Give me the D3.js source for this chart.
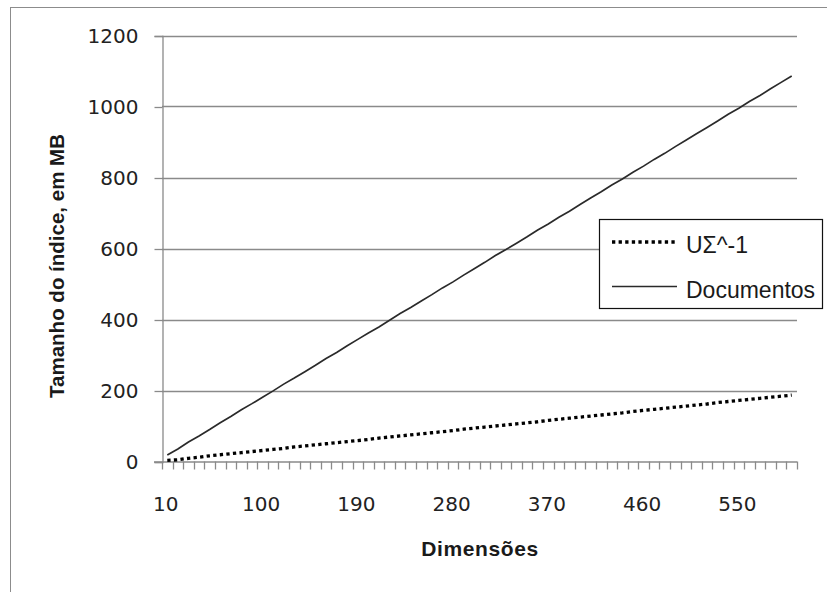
<!DOCTYPE html>
<html><head><meta charset="utf-8">
<script src="https://cdn.jsdelivr.net/npm/d3@7"></script>
<style>html,body{margin:0;padding:0;background:#fff}</style>
</head><body>
<svg id="c" width="827" height="592"></svg>
<script>
const dims = [10,20,30,40,50,60,70,80,90,100,110,120,130,140,150,160,170,180,190,200,210,220,230,240,250,260,270,280,290,300,310,320,330,340,350,360,370,380,390,400,410,420,430,440,450,460,470,480,490,500,510,520,530,540,550,560,570,580,590,600];
const documentos = [18,35,55,72,90,109,127,146,163,181,199,218,235,253,271,290,307,326,344,362,379,398,417,434,452,470,489,506,525,543,561,580,597,615,633,652,669,688,705,724,742,760,779,796,815,832,851,868,887,905,923,941,959,978,995,1014,1031,1050,1068,1086];
const usigma = [3,5,9,12,16,19,22,25,28,31,34,37,41,44,47,50,53,56,59,62,66,69,72,75,78,81,84,87,91,94,97,100,103,106,109,112,116,119,122,125,128,131,134,137,141,144,147,150,153,156,159,162,166,169,172,175,178,181,184,187];
const xTickLabels = [10,100,190,280,370,460,550];
const yTicks = [0,200,400,600,800,1000,1200];
const seriesNames = ["U\u03A3^-1","Documentos"];

const svg = d3.select("#c");
const L = 162, R = 797, T = 35.5, B = 461.5;
const x = d3.scaleBand().domain(dims).range([L, R]).paddingInner(0).paddingOuter(0);
const y = d3.scaleLinear().domain([0,1200]).range([B, T]);
const grid = "#8a8a8a";

// outer frame
svg.append("rect").attr("x",10.5).attr("y",7.5).attr("width",830).attr("height",600)
  .attr("fill","none").attr("stroke","#8c8c8c").attr("stroke-width",1);

// gridlines
svg.append("g").selectAll("line").data(yTicks.filter(d=>d>0)).join("line")
  .attr("x1",L).attr("x2",R).attr("y1",d=>Math.round(y(d))+0.5).attr("y2",d=>Math.round(y(d))+0.5)
  .attr("stroke",grid).attr("stroke-width",1.3);

// y axis
const yAx = svg.append("g").attr("transform",`translate(${L+0.5},0.5)`)
  .call(d3.axisLeft(y).tickValues(yTicks).tickSize(8).tickPadding(16).tickFormat(d3.format("d")));
yAx.select(".domain").attr("stroke",grid).attr("stroke-width",1.3);
yAx.selectAll(".tick line").attr("stroke",grid).attr("stroke-width",1.3);
yAx.selectAll(".tick text").attr("font-family","DejaVu Sans").attr("font-size",20).attr("fill","#222");

// x axis line and ticks at category boundaries
const bounds = dims.map(d=>x(d)).concat([R]);
svg.append("line").attr("x1",L-8).attr("x2",R).attr("y1",B+0.5).attr("y2",B+0.5)
  .attr("stroke",grid).attr("stroke-width",1.3);
svg.append("g").selectAll("line").data(bounds).join("line")
  .attr("x1",d=>Math.round(d)+0.5).attr("x2",d=>Math.round(d)+0.5)
  .attr("y1",B).attr("y2",B+8).attr("stroke",grid).attr("stroke-width",1.3);
svg.append("g").selectAll("text").data(xTickLabels).join("text")
  .attr("x",d=>x(d)+x.bandwidth()/2-1.5).attr("y",511)
  .attr("text-anchor","middle").attr("font-family","DejaVu Sans").attr("font-size",20).attr("fill","#222")
  .text(d=>d);

// lines
const line = vals => d3.line().x((d,i)=>x(dims[i])+x.bandwidth()/2).y(d=>y(d))(vals);
svg.append("path").attr("d",line(usigma)).attr("fill","none").attr("stroke","#000")
  .attr("stroke-width",3.3).attr("stroke-dasharray","3.3,3.3");
svg.append("path").attr("d",line(documentos)).attr("fill","none").attr("stroke","#2a2a2a")
  .attr("stroke-width",1.7);

// axis titles
svg.append("text").attr("x",480).attr("y",556).attr("text-anchor","middle")
  .attr("font-family","Liberation Sans").attr("font-weight","bold").attr("font-size",21)
  .attr("letter-spacing",0.6).attr("fill","#1a1a1a")
  .text("Dimensões");
svg.append("text").attr("transform","translate(64,266) rotate(-90)").attr("text-anchor","middle")
  .attr("font-family","Liberation Sans").attr("font-weight","bold").attr("font-size",20.5).attr("fill","#1a1a1a")
  .text("Tamanho do índice, em MB");

// legend
const lg = svg.append("g");
lg.append("rect").attr("x",599.5).attr("y",219.5).attr("width",223).attr("height",89)
  .attr("fill","#fff").attr("stroke","#111").attr("stroke-width",1.2);
const ly = [242, 286.5];
lg.append("line").attr("x1",612).attr("x2",677).attr("y1",ly[0]).attr("y2",ly[0])
  .attr("stroke","#000").attr("stroke-width",3.3).attr("stroke-dasharray","3.3,3.3");
lg.append("line").attr("x1",612).attr("x2",677).attr("y1",ly[1]).attr("y2",ly[1])
  .attr("stroke","#2a2a2a").attr("stroke-width",1.7);
lg.selectAll("text").data(seriesNames).join("text")
  .attr("x",686).attr("y",(d,i)=>[252.5,298][i])
  .attr("font-family","Liberation Sans").attr("font-size",23).attr("fill","#1a1a1a")
  .text(d=>d);
</script>
</body></html>
